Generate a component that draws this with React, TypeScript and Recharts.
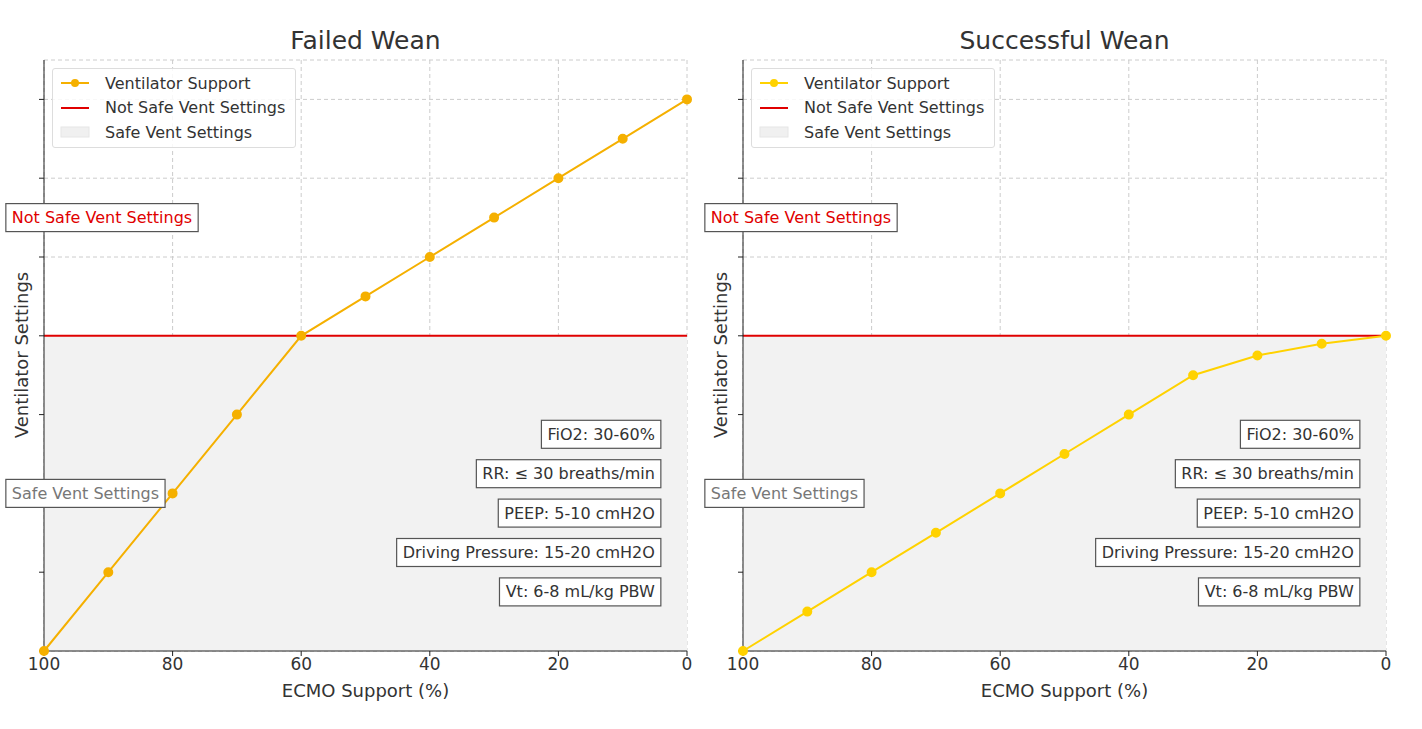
import React, { useLayoutEffect, useRef, useState } from 'react';
import { LineChart, Line, XAxis, YAxis, CartesianGrid, ReferenceArea, ReferenceLine, ReferenceDot } from 'recharts';

const ecmo = [100, 90, 80, 70, 60, 50, 40, 30, 20, 10, 0];
const failedVent = [0, 1, 2, 3, 4, 4.5, 5, 5.5, 6, 6.5, 7];
const successVent = [0, 0.5, 1, 1.5, 2, 2.5, 3, 3.5, 3.75, 3.9, 4];
const xTicks = [100, 80, 60, 40, 20, 0];
const yTicks = [0, 1, 2, 3, 4, 5, 6, 7];
const criteria = ['FiO2: 30-60%', 'RR: ≤ 30 breaths/min', 'PEEP: 5-10 cmH2O', 'Driving Pressure: 15-20 cmH2O', 'Vt: 6-8 mL/kg PBW'];
const criteriaY = [2.75, 2.25, 1.75, 1.25, 0.75];
const safeLimit = 4;

const FONT = 'DejaVu Sans, sans-serif';
const TXT = '#333';

function BoxLabel(props: any) {
  const { cx, cy, text, color, anchor } = props;
  const ref = useRef<SVGTextElement>(null);
  const [w, setW] = useState(text.length * 8.3);
  useLayoutEffect(() => {
    if (ref.current) setW(ref.current.getBBox().width);
  }, [text]);
  const padX = 6, h = 28;
  const x0 = anchor === 'end' ? cx - w - padX : cx - padX;
  return (
    <g>
      <rect x={x0} y={cy - h / 2} width={w + 2 * padX} height={h} fill="white" stroke="#555" strokeWidth={1.2} />
      <text ref={ref} x={cx} y={cy} textAnchor={anchor} dominantBaseline="central" fill={color} fontSize={16} fontFamily={FONT}>{text}</text>
    </g>
  );
}

const emptyTick = () => <g />;

function Panel({ title, values, color, left }: { title: string; values: number[]; color: string; left: number }) {
  const data = ecmo.map((e, i) => ({ ecmo: e, vent: values[i] }));
  return (
    <div style={{ position: 'absolute', left, top: 0, width: 700, height: 729 }}>
      <LineChart width={700} height={729} data={data} margin={{ left: 38, right: 13, top: 60, bottom: 0 }}>
        <ReferenceArea y1={0} y2={safeLimit} fill="#f2f2f2" fillOpacity={1} stroke="none" />
        <CartesianGrid stroke="#ccc" strokeDasharray="4 3" />
        <XAxis dataKey="ecmo" type="number" domain={[0, 100]} reversed ticks={xTicks} stroke="#222" tickSize={5}
          tick={{ fill: TXT, fontSize: 17, fontFamily: FONT }} height={78} />
        <YAxis type="number" domain={[0, 7.5]} ticks={yTicks} width={6} stroke="#222" tickSize={5} tick={emptyTick} />
        <ReferenceLine y={safeLimit} stroke="#e00000" strokeWidth={2} />
        <Line dataKey="vent" stroke={color} strokeWidth={2} dot={{ r: 4, fill: color, stroke: color }} isAnimationActive={false} />
        <ReferenceDot x={105} y={5.5} ifOverflow="visible" shape={(p: any) => <BoxLabel {...p} text="Not Safe Vent Settings" color="#e00000" anchor="start" />} />
        <ReferenceDot x={105} y={2} ifOverflow="visible" shape={(p: any) => <BoxLabel {...p} text="Safe Vent Settings" color="#777" anchor="start" />} />
        {criteria.map((c, i) => (
          <ReferenceDot key={c} x={5} y={criteriaY[i]} ifOverflow="visible" shape={(p: any) => <BoxLabel {...p} text={c} color={TXT} anchor="end" />} />
        ))}
      </LineChart>
      <div style={{ position: 'absolute', zIndex: 5, left: 44, width: 643, top: 26, textAlign: 'center', fontSize: 25, color: TXT, fontFamily: FONT }}>{title}</div>
      <div style={{ position: 'absolute', zIndex: 5, left: 44, width: 643, top: 680, textAlign: 'center', fontSize: 18, color: TXT, fontFamily: FONT }}>ECMO Support (%)</div>
      <div style={{ position: 'absolute', zIndex: 5, left: 21, top: 355, transform: 'translate(-50%,-50%) rotate(-90deg)', fontSize: 18, color: TXT, fontFamily: FONT, whiteSpace: 'nowrap' }}>Ventilator Settings</div>
      <div style={{ position: 'absolute', zIndex: 5, left: 52, top: 68, width: 242, height: 78, border: '1px solid #ddd', borderRadius: 3, background: 'rgba(255,255,255,0.85)', fontFamily: FONT, fontSize: 16, color: TXT }}>
        {[
          { label: 'Ventilator Support', kind: 'line' },
          { label: 'Not Safe Vent Settings', kind: 'red' },
          { label: 'Safe Vent Settings', kind: 'area' },
        ].map((it, i) => (
          <div key={it.label} style={{ position: 'absolute', left: 6, top: 4 + i * 24.5, height: 20, display: 'flex', alignItems: 'center' }}>
            <svg width={32} height={20} style={{ marginRight: 14 }}>
              {it.kind === 'line' && <><line x1={2} x2={30} y1={10} y2={10} stroke={color} strokeWidth={2} /><circle cx={16} cy={10} r={4} fill={color} /></>}
              {it.kind === 'red' && <line x1={2} x2={30} y1={10} y2={10} stroke="#e00000" strokeWidth={2} />}
              {it.kind === 'area' && <rect x={2} y={5} width={28} height={10} fill="#f0f0f0" stroke="#e6e6e6" />}
            </svg>
            <span>{it.label}</span>
          </div>
        ))}
      </div>
    </div>
  );
}

export default function App() {
  return (
    <div style={{ position: 'fixed', left: 0, top: 0, width: 1422, height: 729, background: 'white' }}>
      <Panel title="Failed Wean" values={failedVent} color="#f5b000" left={0} />
      <Panel title="Successful Wean" values={successVent} color="#ffd200" left={699} />
    </div>
  );
}
